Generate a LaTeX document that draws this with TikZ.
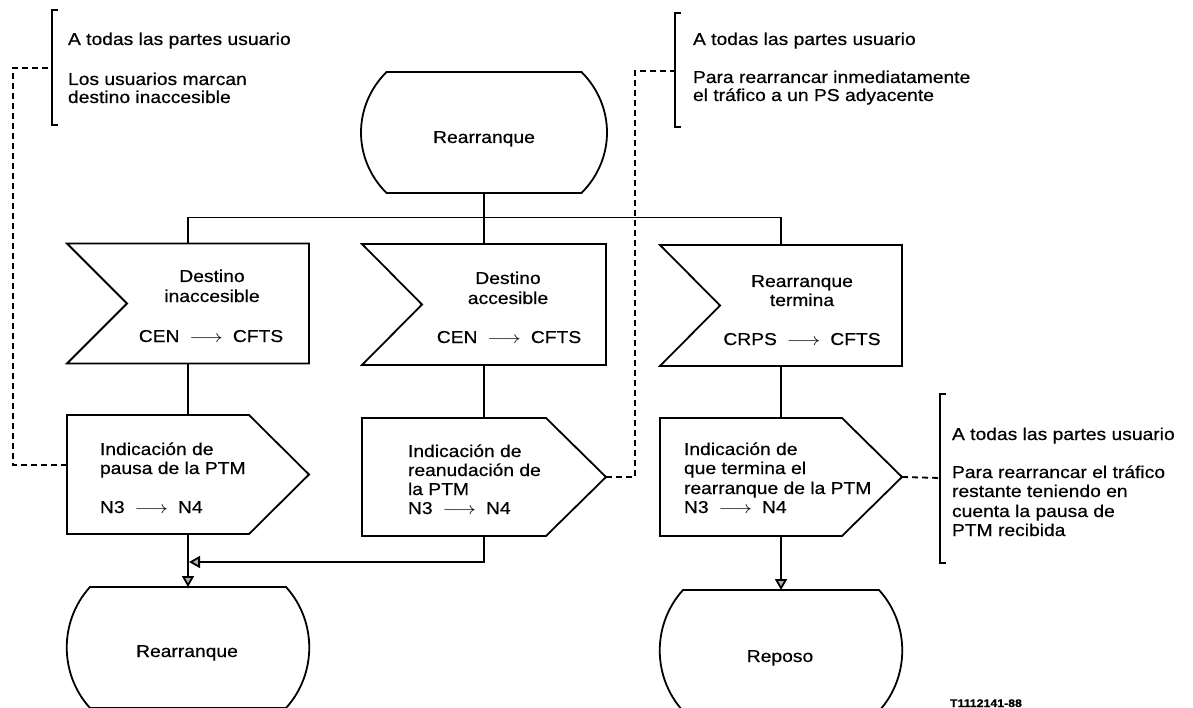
\documentclass[tikz,border=0pt]{standalone}
\usepackage{fontspec}
\setmainfont{Liberation Sans}[FakeStretch=1.12,FakeBold=0.5]
\usetikzlibrary{calc,arrows.meta}
\newcommand\txtsz{\fontsize{17.2}{19.5}\selectfont}
\newcommand\sigarrow{\hspace{10pt}\scalebox{1.2}[1]{$\longrightarrow$}\hspace{10pt}}
\newcommand\drawstate[2]{%
  \draw[line] ($(#1.north west)+(#2,0)$) -- ($(#1.north east)+(-#2,0)$)
    .. controls ($(#1.north east)+(8,34)$) and ($(#1.south east)+(8,-34)$) ..
    ($(#1.south east)+(-#2,0)$) -- ($(#1.south west)+(#2,0)$)
    .. controls ($(#1.south west)+(-8,-34)$) and ($(#1.north west)+(-8,34)$) .. cycle;}
\newcommand\drawinput[1]{%
  \draw[line] (#1.north west) -- (#1.north east) -- (#1.south east) -- (#1.south west)
    -- ($(#1.west)+(60,0)$) -- cycle;}
\newcommand\drawoutput[1]{%
  \draw[line] (#1.north west) -- ($(#1.north east)+(-60,0)$) -- (#1.east)
    -- ($(#1.south east)+(-60,0)$) -- (#1.south west) -- cycle;}
\newcommand\drawbracket[3]{%
  \draw[brk] ($(#1)+(6,-#2)$) -- ($(#1)+(0,-#2)$) -- ($(#1)+(0,#3)$) -- ($(#1)+(6,#3)$);}
\begin{document}
\begin{tikzpicture}[x=1pt,y=-1pt,
  box/.style={draw=none,inner sep=0,outer sep=0,rectangle},
  line/.style={line width=1.8pt,line join=miter},
  brk/.style={line width=2pt},
  dashline/.style={line width=1.8pt,dash pattern=on 6pt off 4pt},
  arr/.style={line width=1.8pt,-{Triangle[length=11pt,width=12pt,fill=gray!60]}},
  tx/.style={inner sep=0,outer sep=0,font=\txtsz},
  code/.style={inner sep=0,outer sep=0,font=\fontsize{11}{13}\selectfont\bfseries}]
\fill[white] (0,0) rectangle (1193,708);
\useasboundingbox (0,0) rectangle (1193,708);

% states
\node[box,minimum width=247pt,minimum height=121pt] (s1) at (484,132.5) {};
\node[box,minimum width=242pt,minimum height=121pt] (s2) at (188,647.5) {};
\node[box,minimum width=242pt,minimum height=121pt] (s3) at (781,650.5) {};
\drawstate{s1}{26}
\drawstate{s2}{23}
\drawstate{s3}{23}
\node[tx,anchor=base] (s1t) at (484,143) {Rearranque};
\node[tx,anchor=base] (s2t) at (187,657) {Rearranque};
\node[tx,anchor=base] (s3t) at (780,662) {Reposo};

% inputs
\node[box,minimum width=242pt,minimum height=120pt] (in1) at (188,303.5) {};
\node[box,minimum width=244pt,minimum height=121pt] (in2) at (484,304.5) {};
\node[box,minimum width=242pt,minimum height=121pt] (in3) at (781,305.5) {};
\drawinput{in1}
\drawinput{in2}
\drawinput{in3}
\node[tx,anchor=base] (in1a) at (212,282) {Destino};
\node[tx,anchor=base] (in1b) at (212,302) {inaccesible};
\node[tx,anchor=base] (in1c) at (211,342) {CEN\sigarrow CFTS};
\node[tx,anchor=base] (in2a) at (508,284) {Destino};
\node[tx,anchor=base] (in2b) at (508,304) {accesible};
\node[tx,anchor=base] (in2c) at (509,343) {CEN\sigarrow CFTS};
\node[tx,anchor=base] (in3a) at (802,287) {Rearranque};
\node[tx,anchor=base] (in3b) at (802,306) {termina};
\node[tx,anchor=base] (in3c) at (802,345) {CRPS\sigarrow CFTS};

% outputs
\node[box,minimum width=242pt,minimum height=119pt] (out1) at (188,474.5) {};
\node[box,minimum width=244pt,minimum height=118pt] (out2) at (484,477) {};
\node[box,minimum width=242pt,minimum height=118pt] (out3) at (781,477) {};
\drawoutput{out1}
\drawoutput{out2}
\drawoutput{out3}
\node[tx,anchor=base west] (o1a) at (100,455) {Indicación de};
\node[tx,anchor=base west] (o1b) at (100,474) {pausa de la PTM};
\node[tx,anchor=base west] (o1c) at (100,513) {N3\sigarrow N4};
\node[tx,anchor=base west] (o2a) at (408,457) {Indicación de};
\node[tx,anchor=base west] (o2b) at (408,476) {reanudación de};
\node[tx,anchor=base west] (o2c) at (408,495) {la PTM};
\node[tx,anchor=base west] (o2d) at (408,514) {N3\sigarrow N4};
\node[tx,anchor=base west] (o3a) at (684,455) {Indicación de};
\node[tx,anchor=base west] (o3b) at (684,474) {que termina el};
\node[tx,anchor=base west] (o3c) at (684,494) {rearranque de la PTM};
\node[tx,anchor=base west] (o3d) at (684,513) {N3\sigarrow N4};

% comments
\coordinate (br1) at (52,68);
\coordinate (br2) at (675,71);
\coordinate (br3) at (940,478);
\drawbracket{br1}{58}{57}
\drawbracket{br2}{58}{56}
\drawbracket{br3}{84}{85}
\node[tx,anchor=base west] (c1a) at (68,45) {A todas las partes usuario};
\node[tx,anchor=base west] (c1b) at (68,85) {Los usuarios marcan};
\node[tx,anchor=base west] (c1c) at (68,103) {destino inaccesible};
\node[tx,anchor=base west] (c2a) at (693,45) {A todas las partes usuario};
\node[tx,anchor=base west] (c2b) at (693,83) {Para rearrancar inmediatamente};
\node[tx,anchor=base west] (c2c) at (693,101) {el tráfico a un PS adyacente};
\node[tx,anchor=base west] (c3a) at (952,440) {A todas las partes usuario};
\node[tx,anchor=base west] (c3b) at (952,478) {Para rearrancar el tráfico};
\node[tx,anchor=base west] (c3c) at (952,497) {restante teniendo en};
\node[tx,anchor=base west] (c3d) at (952,517) {cuenta la pausa de};
\node[tx,anchor=base west] (c3e) at (952,536) {PTM recibida};

% flow lines
\draw[line] (s1.south) -- (in2.north);
\draw[line] (in1.north) -- ++(0,-26) -| (in3.north);
\draw[line] (in1.south) -- (out1.north);
\draw[line] (in2.south) -- (out2.north);
\draw[line] (in3.south) -- (out3.north);
\draw[arr] (out1.south) -- (s2.north);
\coordinate (merge) at (189,562);
\draw[arr] (out2.south) |- (merge);
\draw[arr] (out3.south) -- (s3.north);

% dashed links to comments
\draw[dashline] ($(out1.west)+(0,-9.5)$) -| ($(br1)+(-39,0)$) -- (br1);
\draw[dashline] (out2.east) -| ($(br2)+(-40,0)$) -- (br2);
\draw[dashline] (out3.east) -- (br3);

% figure code
\node[code,anchor=base west] (fig) at (950,707) {T1112141-88};
\end{tikzpicture}
\end{document}
